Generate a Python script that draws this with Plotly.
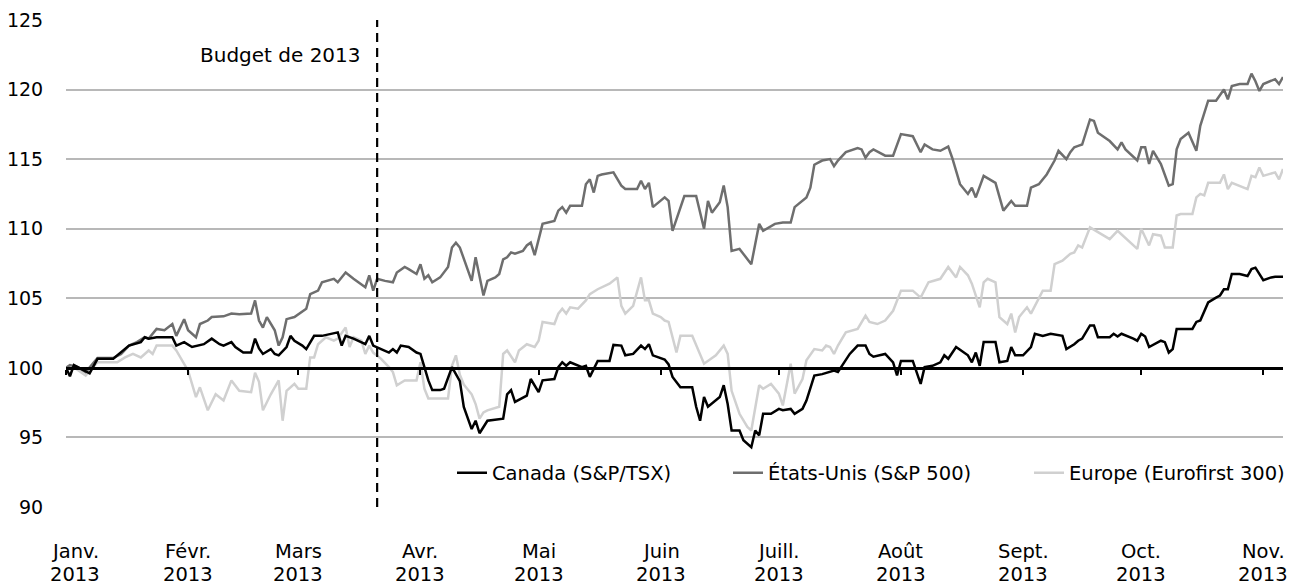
import plotly.graph_objects as go
import pandas as pd

# ---------------- data ----------------
month_starts = ["2013-01-01", "2013-02-01", "2013-03-01", "2013-04-01", "2013-05-01",
                "2013-06-01", "2013-07-01", "2013-08-01", "2013-09-01", "2013-10-01",
                "2013-11-01"]
month_names = ["Janv.", "Févr.", "Mars", "Avr.", "Mai", "Juin", "Juill.", "Août", "Sept.", "Oct.", "Nov."]
year_label = "2013"
y_ticks = [90, 95, 100, 105, 110, 115, 120, 125]
x_start = "2013-01-01"
x_end = "2013-11-06"
budget_date = "2013-03-21"
budget_label = "Budget de 2013"
base_value = 100

# days since 1 Jan 2013
canada_day = [0, 1, 2, 4, 6, 8, 12, 13, 16, 19, 20, 21, 23, 27, 28, 30, 32, 35, 37, 39, 40, 42, 43, 45, 47, 48, 49,
              50, 52, 53, 54, 56, 57, 58, 60, 61, 63, 65, 67, 69, 70, 71, 73, 75, 76, 77, 78, 80, 82, 83, 84, 85, 87,
              89, 90, 91, 92, 93, 95, 96, 98, 100, 101, 103, 104, 105, 107, 111, 112, 113, 114, 117, 118, 120, 121,
              124, 125, 126, 127, 128, 131, 132, 133, 135, 138, 139, 141, 142, 144, 146, 147, 148, 149, 152, 153,
              154, 156, 159, 160, 161, 162, 163, 166, 167, 168, 169, 171, 172, 174, 175, 176, 177, 179, 181, 182,
              184, 185, 187, 188, 190, 192, 195, 196, 199, 201, 203, 204, 205, 208, 210, 211, 212, 215, 217, 218,
              220, 222, 223, 224, 226, 229, 230, 231, 232, 233, 236, 237, 239, 240, 241, 243, 245, 246, 248, 250,
              253, 254, 256, 257, 258, 260, 261, 262, 265, 266, 267, 268, 271, 272, 273, 274, 275, 278, 279, 280,
              281, 282, 286, 287, 288, 289, 290, 292, 293, 294, 295, 296, 298, 300, 301, 302, 304, 306, 307, 309]
canada_val = [100.0, 99.4, 100.2, 99.9, 99.6, 100.65, 100.65, 100.9, 101.6, 101.85, 102.2, 102.1, 102.2, 102.2,
              101.6, 101.85, 101.5, 101.7, 102.1, 101.7, 101.6, 101.85, 101.5, 101.1, 101.1, 102.1, 101.4,
              101.0, 101.35, 101.0, 100.9, 101.5, 102.3, 101.95, 101.6, 101.35, 102.3, 102.3, 102.45, 102.55,
              101.6, 102.3, 102.1, 101.85, 101.7, 102.3, 101.6, 101.35, 101.1, 101.35, 101.1, 101.6, 101.5,
              101.1, 101.0, 100.05, 99.1, 98.4, 98.4, 98.5, 100.05, 99.05, 97.2, 95.6, 96.2, 95.3, 96.2, 96.35,
              98.1, 98.4, 97.55, 98.0, 99.2, 98.25, 99.1,
              99.2, 100.05, 100.4, 100.15, 100.4, 100.05, 100.15, 99.35, 100.5, 100.5, 101.65, 101.6, 100.9,
              101.0, 101.6, 101.35, 101.7, 100.9, 100.6, 100.25,
              99.35, 98.6, 98.6, 97.2, 96.2, 97.9, 97.2, 97.9, 98.75, 97.4, 95.5, 95.5, 94.8, 94.3, 95.5, 95.15,
              96.7, 96.7, 97.05, 96.95,
              97.05, 96.7, 97.05, 97.65, 99.45, 99.55, 99.8, 99.7, 101.0, 101.6, 101.6, 101.0, 100.8, 101.0,
              100.4, 99.45, 100.5, 100.5, 98.85, 100.05,
              100.15, 100.4, 100.9, 100.65, 101.5, 100.9, 100.4, 101.1, 100.15, 101.85, 101.85, 100.4, 100.5,
              101.5, 100.9, 100.9, 101.5, 102.45, 102.3, 102.45,
              102.3, 101.35, 101.7, 101.95, 102.1, 103.05, 103.05, 102.2, 102.2, 102.45, 102.25, 102.45, 102.1,
              101.95, 102.45, 102.25, 101.5, 101.95, 101.85, 101.1,
              101.35, 102.8, 102.8, 103.3, 103.4, 104.1, 104.7, 105.05, 105.2, 105.65, 105.65, 106.75, 106.75,
              106.6, 107.1, 107.2, 106.3, 106.5, 106.55, 106.55]

usa_day = [0, 1, 3, 5, 8, 12, 14, 16, 18, 20, 21, 23, 25, 27, 28, 30, 31, 33, 34, 36, 37, 40, 42, 44, 47, 48, 49,
           50, 51, 53, 54, 55, 56, 58, 61, 62, 64, 65, 68, 69, 71, 73, 76, 77, 78, 79, 81, 83, 84, 86, 87, 89,
           90, 91, 92, 93, 95, 96, 97, 98, 99, 100, 101, 103, 104, 105, 106, 107, 109, 110, 111, 112, 113, 114,
           116, 117, 118, 119, 121, 124, 125, 126, 127, 128, 131, 132, 133, 134, 135, 136, 139, 141, 142, 145,
           146, 147, 148, 149, 152, 153, 154, 157, 160, 162, 163, 164, 166, 167, 168, 169, 171, 174, 176, 177,
           180, 182, 184, 185, 187, 188, 189, 190, 192, 194, 195, 196, 198, 201, 202, 203, 204, 205, 208, 210,
           212, 215, 217, 218, 220, 222, 224, 225, 227, 229, 230, 231, 233, 236, 238, 240, 241, 244, 245, 247,
           249, 251, 252, 254, 255, 256, 257, 258, 260, 261, 262, 265, 267, 268, 269, 272, 273, 274, 275, 276,
           278, 280, 281, 282, 283, 285, 287, 288, 290, 292, 294, 295, 296, 298, 300, 301, 302, 303, 304, 306,
           307, 308, 309]
usa_val = [100.0, 100.2, 100.05, 99.7, 100.7, 100.7, 101.0, 101.6, 101.85, 102.2, 102.1, 102.8, 102.7, 103.15,
           102.3, 103.5, 102.7, 102.2, 103.15, 103.4, 103.65, 103.7, 103.9, 103.85, 103.9, 104.85, 103.4,
           102.9, 103.65, 102.7, 101.6, 102.2, 103.5, 103.65, 104.25, 105.3, 105.55, 106.15, 106.4, 106.15,
           106.85, 106.4, 105.8, 106.65, 105.55, 106.4, 106.25, 106.15, 106.85, 107.25, 107.1, 106.75,
           107.45, 106.4, 106.65, 106.15, 106.5, 106.85, 107.25, 108.65, 109.0, 108.65, 107.9, 106.25, 107.95,
           106.5, 105.2, 106.25, 106.5, 106.75, 107.8, 107.95, 108.3, 108.2,
           108.4, 108.8, 109.0, 108.1, 110.35, 110.55, 111.3, 111.55, 111.15, 111.65, 111.65, 113.2, 113.55,
           112.6, 113.8, 113.9, 114.05, 113.1, 112.85, 112.85,
           113.45, 112.85, 113.3, 111.55, 112.25, 112.0, 109.85, 112.35, 112.35, 110.0, 112.0, 111.15, 111.9,
           113.1, 111.55, 108.4, 108.55, 107.45, 110.35, 109.85,
           110.35, 110.45, 110.45, 111.55, 112.0, 112.25, 112.95, 114.6, 114.9, 115.0, 114.5, 114.9, 115.5,
           115.8, 115.7, 115.1, 115.5, 115.7, 115.25, 115.25,
           116.8, 116.65, 115.5, 116.05, 115.7, 115.6, 115.9, 115.1, 113.2, 112.5, 112.95, 112.25, 113.8,
           113.3, 111.3, 112.0, 111.65, 111.65, 112.95, 113.2,
           113.9, 114.9, 115.6, 115.0, 115.5, 115.85, 115.95, 116.05, 117.85, 117.75, 116.9, 116.3, 115.7,
           116.2, 115.7, 114.9, 115.85, 115.85, 114.65, 115.6,
           114.65, 113.1, 113.2, 115.7, 116.45, 116.9, 115.6, 117.4, 119.2, 119.2, 120.0, 119.3, 120.25,
           120.4, 120.4, 121.15, 120.6, 119.9, 120.4, 120.6,
           120.75, 120.4, 120.9]

europe_day = [0, 2, 5, 8, 13, 15, 17, 19, 21, 22, 23, 27, 28, 29, 31, 33, 34, 36, 38, 40, 42, 44, 47, 48, 49,
              50, 52, 54, 55, 56, 58, 59, 61, 62, 63, 64, 66, 68, 69, 71, 72, 73, 75, 76, 77, 78, 80, 82, 83, 84,
              86, 89, 90, 91, 92, 97, 98, 99, 100, 101, 103, 104, 105, 106, 107, 110, 111, 112, 114, 115, 117,
              119, 120, 121, 124, 125, 126, 127, 128, 130, 132, 133, 135, 138, 140, 141, 142, 144, 146, 147, 148,
              149, 151, 152, 153, 155, 156, 159, 161, 162, 165, 167, 168, 169, 171, 173, 174, 176, 177, 179, 181,
              182, 184, 185, 187, 188, 190, 192, 193, 194, 195, 196, 198, 201, 203, 204, 206, 208, 210, 212, 215,
              217, 219, 222, 224, 226, 227, 229, 230, 232, 233, 234, 236, 237, 239, 240, 241, 242, 244, 245, 248,
              250, 251, 253, 255, 256, 257, 258, 260, 265, 267, 272, 273, 275, 276, 278, 279, 281, 282, 283, 286,
              287, 288, 289, 290, 293, 294, 295, 296, 300, 301, 302, 303, 304, 307, 308, 309]
europe_val = [100.0, 100.05, 99.45, 100.4, 100.4, 100.75, 101.0, 100.75, 101.25, 101.0, 101.6, 101.6, 101.25,
              100.75, 99.8, 97.9, 98.6, 96.95, 98.1, 97.65, 99.1, 98.35, 98.25, 99.65, 99.0,
              96.95, 98.1, 99.1, 96.2, 98.35, 98.85, 98.5, 98.5, 100.75, 100.75, 101.7, 102.2, 101.95, 102.1,
              102.9, 101.5, 102.2, 101.95, 101.0, 101.6, 101.1, 100.65, 100.05, 99.7, 98.75,
              99.1, 99.1, 100.4, 98.5, 97.8, 97.8, 100.15, 100.9, 99.5, 98.8, 98.1, 97.4, 96.35, 96.8, 96.95,
              97.2, 101.0, 101.25, 100.4, 101.25, 101.7,
              101.5, 101.95, 103.3, 103.15, 103.9, 104.25, 103.9, 104.35, 104.25, 104.85, 105.3, 105.65, 106.05,
              106.5, 104.45, 103.9, 104.45, 106.5, 104.85, 104.85,
              103.9, 103.65, 103.4, 103.3, 101.1, 102.3, 102.3, 100.9, 100.3, 100.9, 101.6, 101.0, 98.35, 96.7,
              95.75, 95.5, 98.75, 98.5, 98.85, 98.15,
              97.3, 100.3, 98.15, 99.2, 100.55, 101.35, 101.25, 101.6, 101.5, 101.0, 101.6, 102.55, 102.8,
              103.75, 103.3, 103.15, 103.4, 104.1, 105.55, 105.55,
              105.05, 106.15, 106.4, 107.25, 106.5, 107.25, 106.65, 106.05, 104.35, 106.15, 106.4, 106.15,
              103.65, 103.15, 103.9, 102.55, 103.65, 104.35, 103.9, 105.55,
              105.55, 107.45, 107.7, 108.2, 108.3, 108.8, 108.65, 110.1, 109.25, 109.85, 108.55, 110.0, 108.8,
              109.6, 109.5, 108.65, 108.65, 110.95, 111.05, 111.05,
              112.25, 112.5, 112.4, 113.3, 113.3, 113.9, 112.85, 113.3, 112.85, 113.8, 113.7, 114.4, 113.8,
              114.05, 113.55, 114.3]

series_names = ["Canada (S&P/TSX)", "États-Unis (S&P 500)", "Europe (Eurofirst 300)"]

# ---------------- figure ----------------
base = pd.Timestamp(x_start)


def to_dates(days):
    return [base + pd.Timedelta(days=d) for d in days]


FONT = "DejaVu Sans"
PAGE_OFF = 8                      # default body margin of the html page
FIG_W, FIG_H = 1295 - PAGE_OFF, 587 - PAGE_OFF
M_L, M_R, M_T, M_B = 66 - PAGE_OFF, 12, 20 - PAGE_OFF, 80
PLOT_W = FIG_W - M_L - M_R
PLOT_H = FIG_H - M_T - M_B
PLOT_LEFT_PAGE = PAGE_OFF + M_L
PLOT_BOTTOM_PAGE = PAGE_OFF + FIG_H - M_B


def px_to_paper_x(px):
    return (px - PLOT_LEFT_PAGE) / PLOT_W


def px_to_paper_y(py):
    return (PLOT_BOTTOM_PAGE - py) / PLOT_H


fig = go.Figure()

# draw order: Europe (back), USA, Canada (front); each in its own legend for exact placement
fig.add_trace(go.Scatter(x=to_dates(europe_day), y=europe_val, mode="lines", name=series_names[2],
                         line=dict(color="#d0d0d0", width=2.5), legend="legend3", hoverinfo="skip"))
fig.add_trace(go.Scatter(x=to_dates(usa_day), y=usa_val, mode="lines", name=series_names[1],
                         line=dict(color="#6e6e6e", width=2.5), legend="legend2", hoverinfo="skip"))
fig.add_trace(go.Scatter(x=to_dates(canada_day), y=canada_val, mode="lines", name=series_names[0],
                         line=dict(color="#000000", width=2.5), legend="legend", hoverinfo="skip"))

# budget reference line (on the overlay axis so that axis is drawn)
fig.add_trace(go.Scatter(x=[budget_date, budget_date], y=[y_ticks[0], y_ticks[-1]], mode="lines",
                         xaxis="x2", showlegend=False, hoverinfo="skip",
                         line=dict(color="#000000", width=2.2, dash="9px,6px")))

fig.add_annotation(x=budget_date, y=122.5, xref="x", yref="y", text=budget_label, showarrow=False,
                   xanchor="right", yanchor="middle", xshift=-14,
                   font=dict(family=FONT, size=20, color="#000000"))

# two-row month labels (month name, then year); the first one is nudged inside like in the source
for i, (m, name) in enumerate(zip(month_starts, month_names)):
    shift = 9 if i == 0 else 0
    fig.add_annotation(x=m, xref="x", y=px_to_paper_y(551), yref="paper", text=name,
                       showarrow=False, xanchor="center", yanchor="middle", xshift=shift,
                       font=dict(family=FONT, size=19.5, color="#000000"))
    fig.add_annotation(x=m, xref="x", y=px_to_paper_y(574), yref="paper", text=year_label,
                       showarrow=False, xanchor="center", yanchor="middle", xshift=shift,
                       font=dict(family=FONT, size=19.5, color="#000000"))

leg_common = dict(orientation="h", y=px_to_paper_y(473), xanchor="left", yanchor="middle",
                  bgcolor="rgba(0,0,0,0)", borderwidth=0,
                  font=dict(family=FONT, size=19.5, color="#000000"))

fig.update_layout(
    width=FIG_W, height=FIG_H,
    margin=dict(l=M_L, r=M_R, t=M_T, b=M_B, autoexpand=False),
    paper_bgcolor="white", plot_bgcolor="white",
    font=dict(family=FONT, size=20, color="#000000"),
    hovermode=False,
    showlegend=True,
    legend=dict(x=px_to_paper_x(452), **leg_common),
    legend2=dict(x=px_to_paper_x(728), **leg_common),
    legend3=dict(x=px_to_paper_x(1029), **leg_common),
    xaxis=dict(type="date", range=[x_start, x_end], tickvals=month_starts, showticklabels=False,
               ticks="", showgrid=False, showline=False, zeroline=False, automargin=False),
    xaxis2=dict(type="date", range=[x_start, x_end], overlaying="x", anchor="free",
                position=(base_value - y_ticks[0]) / (y_ticks[-1] - y_ticks[0]),
                tickvals=month_starts, showticklabels=False, ticks="outside", ticklen=5, tickwidth=2,
                tickcolor="#000000", showline=True, linecolor="#000000", linewidth=2.5,
                showgrid=False, zeroline=False, side="bottom", automargin=False),
    yaxis=dict(range=[y_ticks[0], y_ticks[-1]], tickvals=y_ticks, showgrid=True, gridcolor="#b8b8b8",
               gridwidth=1.5, zeroline=False, showline=False, ticks="outside", ticklen=18,
               tickcolor="rgba(0,0,0,0)", automargin=False,
               tickfont=dict(family=FONT, size=19, color="#000000")),
)

fig.write_html("out.html")
